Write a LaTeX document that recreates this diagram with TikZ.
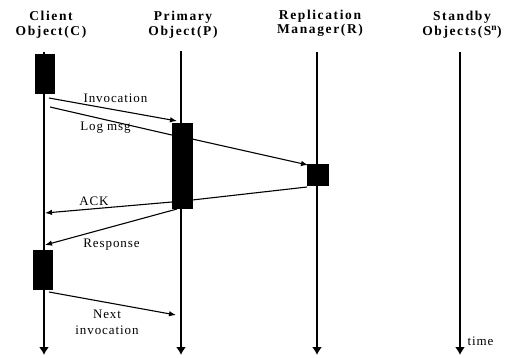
\documentclass[tikz,border=0pt]{standalone}
\usepackage{fontspec}
\setmainfont{Liberation Serif}
\newfontfamily\hdrfont[LetterSpace=12]{Liberation Serif}
\newfontfamily\lblfont[LetterSpace=7]{Liberation Serif}
\usetikzlibrary{arrows.meta}
\begin{document}
\begin{tikzpicture}[x=1pt,y=-1pt,
  hdr/.style={font=\hdrfont\bfseries\fontsize{13.5}{14.5}\selectfont, align=center, inner sep=0pt, anchor=base},
  lbl/.style={font=\lblfont\fontsize{13}{15.7}\selectfont, inner sep=0pt, align=center, anchor=base},
  life/.style={line width=1.7pt, -{Latex[length=8pt,width=10pt]}},
  act/.style={fill=black, draw=black, inner sep=0pt},
  msg/.style={line width=1.1pt, -{Latex[length=7pt,width=5.5pt]}}]
\useasboundingbox (0,0) rectangle (513,357);
% headers (anchored at the baseline of the last line)
\node[hdr] (hC) at (51,35.3) {Client\\Object(C)};
\node[hdr] (hP) at (183,35.3) {Primary\\Object(P)};
\node[hdr] (hR) at (320,33.8) {Replication\\Manager(R)};
\node[hdr] (hS) at (462,35.3) {Standby\\Objects(S\textsuperscript{n})};
% lifeline ends
\coordinate (cT) at (44,52);  \coordinate (cB) at (44,355);
\coordinate (pT) at (181,51); \coordinate (pB) at (181,355);
\coordinate (rT) at (317,52); \coordinate (rB) at (317,355);
\coordinate (sT) at (460,52); \coordinate (sB) at (460,355);
\draw[life] (cT) -- (cB);
\draw[life] (pT) -- (pB);
\draw[life] (rT) -- (rB);
\draw[life] (sT) -- (sB);
% activation boxes
\node[act, minimum width=19pt, minimum height=39pt] (c1) at (45,73.5) {};
\node[act, minimum width=20pt, minimum height=85pt] (p1) at (182,165.5) {};
\node[act, minimum width=21pt, minimum height=21pt] (r1) at (318,174.5) {};
\node[act, minimum width=19pt, minimum height=39pt] (c2) at (43,269.5) {};
% message end points
\coordinate (invS) at (49,98);   \coordinate (invE) at (177,121);
\coordinate (logS) at (50,107);  \coordinate (logE) at (308,165);
\coordinate (ackS) at (307,187); \coordinate (ackE) at (45,213);
\coordinate (resS) at (177,209); \coordinate (resE) at (45,245);
\coordinate (nxtS) at (49,292);  \coordinate (nxtE) at (176,315);
\draw[msg] (invS) -- (invE);
\draw[line width=1.1pt] (logS) -- (p1.west |- 0,135);
\draw[msg] (p1.east |- 0,139) -- (logE);
\draw[line width=1.1pt] (ackS) -- (p1.east |- 0,200);
\draw[msg] (p1.west |- 0,202) -- (ackE);
\draw[msg] (resS) -- (resE);
\draw[msg] (nxtS) -- (nxtE);
% labels (anchored at the baseline of the last line)
\node[lbl] (lInv) at (115.5,102.3) {Invocation};
\node[lbl] (lLog) at (105.5,130.5) {Log msg};
\node[lbl] (lAck) at (94,205) {ACK};
\node[lbl] (lRes) at (111.5,247.3) {Response};
\node[lbl] (lNxt) at (107,334) {Next\\invocation};
\node[lbl] (lTime) at (480.5,345) {time};
\end{tikzpicture}
\end{document}
